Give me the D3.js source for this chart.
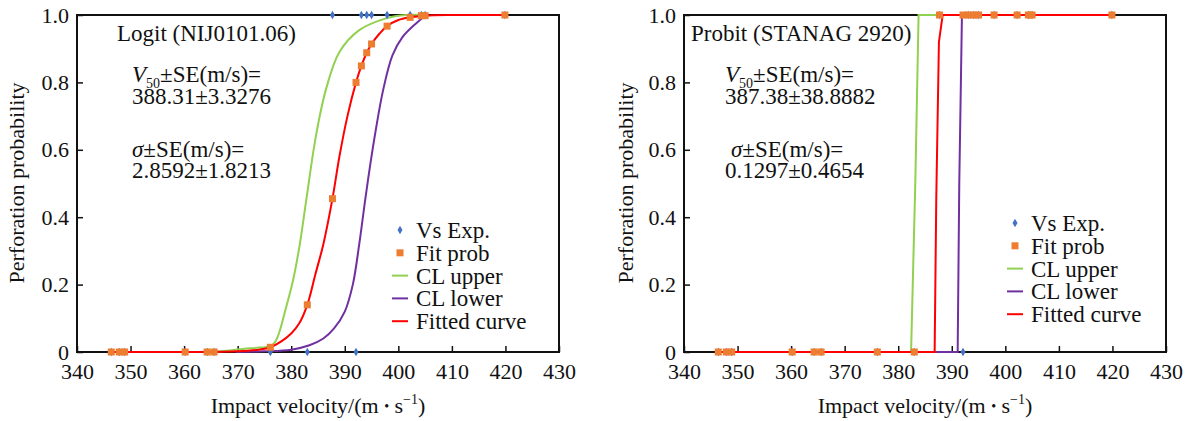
<!DOCTYPE html>
<html>
<head>
<meta charset="utf-8">
<script src="https://cdn.jsdelivr.net/npm/d3@7"></script>
<style>
  body { margin: 0; background: #fff; }
  svg text { font-family: "Liberation Serif", "Times New Roman", serif; fill: #111; }
</style>
</head>
<body>
<div id="chart"></div>
<script>
// ---- data ----
const velocityTicks = [340, 350, 360, 370, 380, 390, 400, 410, 420, 430]
const probTicks = [0, 0.2, 0.4, 0.6, 0.8, 1.0]
const probTickLabels = ['0', '0.2', '0.4', '0.6', '0.8', '1.0']

// experimental shots (1 = perforation, 0 = no perforation)
const shotVelocity = [346.4, 347.9, 348.9, 360.2, 364.3, 365.6, 376.1, 383.0, 387.7, 392.1, 393.1, 394.1, 395.0, 397.9, 402.2, 404.3, 405.0, 419.9]
const shotResult = [0, 0, 0, 0, 0, 0, 0, 0, 1, 0, 1, 1, 1, 1, 1, 1, 1, 1]

// fitted probability at each shot
const logitFitProb = [0, 0, 0, 0, 0, 0, 0.014, 0.14, 0.455, 0.80, 0.849, 0.888, 0.914, 0.967, 0.993, 0.998, 0.998, 1]
const probitFitProb = [0, 0, 0, 0, 0, 0, 0, 0, 1, 1, 1, 1, 1, 1, 1, 1, 1, 1]

// curves: [velocity, probability]
const logitFitted = [[346.4, 0], [360, 0], [370, 0.002], [374, 0.007], [376.1, 0.014], [378, 0.03], [380, 0.055], [381.5, 0.085],
  [383, 0.14], [384.5, 0.23], [386, 0.32], [387.7, 0.455], [389, 0.58], [390.5, 0.70], [392.1, 0.80], [393.1, 0.849],
  [394.1, 0.888], [395, 0.914], [396.5, 0.945], [397.9, 0.967], [400, 0.985], [402.2, 0.993], [405, 0.998], [410, 1], [419.9, 1]]
const logitUpper = [[365.3, 0], [368, 0.004], [371, 0.009], [374, 0.013], [376.1, 0.017], [377, 0.03], [377.8, 0.06], [379, 0.13],
  [380.3, 0.21], [381.5, 0.31], [382.8, 0.45], [384.6, 0.64], [386.5, 0.78], [389, 0.89], [392.7, 0.955], [397.7, 0.99], [401.5, 1], [405, 1]]
const logitLower = [[369.7, 0], [375, 0.002], [380, 0.007], [383.4, 0.02], [386, 0.04], [388, 0.07], [390, 0.12], [391.5, 0.2],
  [392.7, 0.32], [393.8, 0.45], [394.7, 0.55], [395.8, 0.66], [397.2, 0.78], [398.9, 0.88], [400.8, 0.935], [403.3, 0.975], [405.2, 1]]

const probitFitted = [[346.4, 0], [386.8, 0], [387.1, 0.45], [387.6, 0.92], [388.3, 1], [419.9, 1]]
const probitUpper = [[346.4, 0], [382.4, 0], [383.2, 0.51], [383.8, 1], [405, 1]]
const probitLower = [[346.4, 0], [391.1, 0], [391.4, 0.5], [391.9, 1], [405, 1]]

const legendNames = ['Vs Exp.', 'Fit prob', 'CL upper', 'CL lower', 'Fitted curve']
const colors = { exp: '#4472c4', fit: '#ed7d31', upper: '#92d050', lower: '#7030a0', fitted: '#ff0000' }

const W = 1190, H = 421

const svg = d3.select('#chart').append('svg').attr('width', W).attr('height', H)

function drawPanel(cfg) {
  const x = d3.scaleLinear().domain([340, 430]).range(cfg.xRange)
  const y = d3.scaleLinear().domain([0, 1]).range([352, 15])
  const g = svg.append('g')

  // frame
  g.append('rect')
    .attr('x', cfg.xRange[0]).attr('y', 15)
    .attr('width', cfg.xRange[1] - cfg.xRange[0]).attr('height', 337)
    .attr('fill', 'none').attr('stroke', '#111').attr('stroke-width', 2)

  // axes (inside ticks)
  const xAxis = g.append('g').attr('transform', 'translate(0,352)')
    .call(d3.axisBottom(x).tickValues(velocityTicks).tickSize(-6).tickSizeOuter(0).tickPadding(11))
  const yAxis = g.append('g').attr('transform', `translate(${cfg.xRange[0]},0)`)
    .call(d3.axisLeft(y).tickValues(probTicks).tickFormat((d, i) => probTickLabels[i]).tickSize(-6).tickSizeOuter(0).tickPadding(8))
  ;[xAxis, yAxis].forEach(a => {
    a.select('.domain').remove()
    a.selectAll('line').attr('stroke', '#111').attr('stroke-width', 1.5)
    a.selectAll('text').attr('font-size', '22px').attr('font-family', '"Liberation Serif", serif').attr('fill', '#111')
  })

  // axis titles
  const xt = g.append('text')
    .attr('x', (cfg.xRange[0] + cfg.xRange[1]) / 2).attr('y', 413)
    .attr('text-anchor', 'middle').attr('font-size', '22px')
  xt.append('tspan').text('Impact velocity/(m ')
  xt.append('tspan').attr('font-size', '14px').attr('dy', -2).text('•')
  xt.append('tspan').attr('dy', 2).text(' s')
  xt.append('tspan').attr('font-size', '14px').attr('dy', -9).text('−1')
  xt.append('tspan').attr('dy', 9).text(')')

  g.append('text')
    .attr('transform', `translate(${cfg.yTitleX},183) rotate(-90)`)
    .attr('text-anchor', 'middle').attr('font-size', '22px')
    .text('Perforation probability')

  // curves
  const line = d3.line().x(d => x(d[0])).y(d => y(d[1])).curve(cfg.curve)
  ;[[cfg.upper, colors.upper], [cfg.lower, colors.lower], [cfg.fitted, colors.fitted]].forEach(([data, c]) => {
    g.append('path').datum(data).attr('d', line)
      .attr('fill', 'none').attr('stroke', c).attr('stroke-width', 2)
  })

  // experimental points
  g.selectAll('.exp').data(shotVelocity).join('path')
    .attr('class', 'exp')
    .attr('transform', (d, i) => `translate(${x(d)},${y(shotResult[i])})`)
    .attr('d', d3.symbol(d3.symbolDiamond, 22))
    .attr('fill', colors.exp)

  // fitted probability points
  g.selectAll('.fit').data(shotVelocity).join('rect')
    .attr('class', 'fit')
    .attr('x', d => x(d) - 3.5).attr('y', (d, i) => y(cfg.fitProb[i]) - 3.5)
    .attr('width', 7).attr('height', 7)
    .attr('fill', colors.fit)

  // annotations
  g.append('text').attr('x', cfg.noteX).attr('y', 41).attr('font-size', '23px').text(cfg.title)
  const v = g.append('text').attr('x', cfg.valX).attr('y', 82).attr('font-size', '23px')
  v.append('tspan').attr('font-style', 'italic').text('V')
  v.append('tspan').attr('font-size', '14px').attr('dy', 6).text('50')
  v.append('tspan').attr('dy', -6).text('±SE(m/s)=')
  g.append('text').attr('x', cfg.valX).attr('y', 104).attr('font-size', '23px').text(cfg.v50)
  const s = g.append('text').attr('x', cfg.sigX).attr('y', 157).attr('font-size', '23px')
  s.append('tspan').attr('font-style', 'italic').text('σ')
  s.append('tspan').text('±SE(m/s)=')
  g.append('text').attr('x', cfg.valX).attr('y', 178).attr('font-size', '23px').text(cfg.sigma)

  // legend
  const lg = g.append('g').attr('transform', `translate(${cfg.legend[0]},${cfg.legend[1]})`)
  legendNames.forEach((name, i) => {
    const row = lg.append('g').attr('transform', `translate(0,${i * 22.8})`)
    if (i === 0) row.append('path').attr('transform', 'translate(8,0)').attr('d', d3.symbol(d3.symbolDiamond, 22)).attr('fill', colors.exp)
    else if (i === 1) row.append('rect').attr('x', 4.5).attr('y', -3.5).attr('width', 7).attr('height', 7).attr('fill', colors.fit)
    else row.append('line').attr('x1', 0).attr('x2', 16)
      .attr('stroke', [colors.upper, colors.lower, colors.fitted][i - 2]).attr('stroke-width', 2)
    row.append('text').attr('x', 24).attr('dy', '0.35em').attr('font-size', '23px').text(name)
  })
}

drawPanel({
  xRange: [77, 559], yTitleX: 24, curve: d3.curveCatmullRom.alpha(0.5),
  title: 'Logit (NIJ0101.06)', noteX: 117, valX: 132, sigX: 132,
  v50: '388.31±3.3276', sigma: '2.8592±1.8213',
  fitted: logitFitted, upper: logitUpper, lower: logitLower, fitProb: logitFitProb,
  legend: [392, 230]
})

drawPanel({
  xRange: [684, 1166], yTitleX: 633, curve: d3.curveLinear,
  title: 'Probit (STANAG 2920)', noteX: 691, valX: 725, sigX: 731,
  v50: '387.38±38.8882', sigma: '0.1297±0.4654',
  fitted: probitFitted, upper: probitUpper, lower: probitLower, fitProb: probitFitProb,
  legend: [1007, 223]
})
</script>
</body>
</html>
